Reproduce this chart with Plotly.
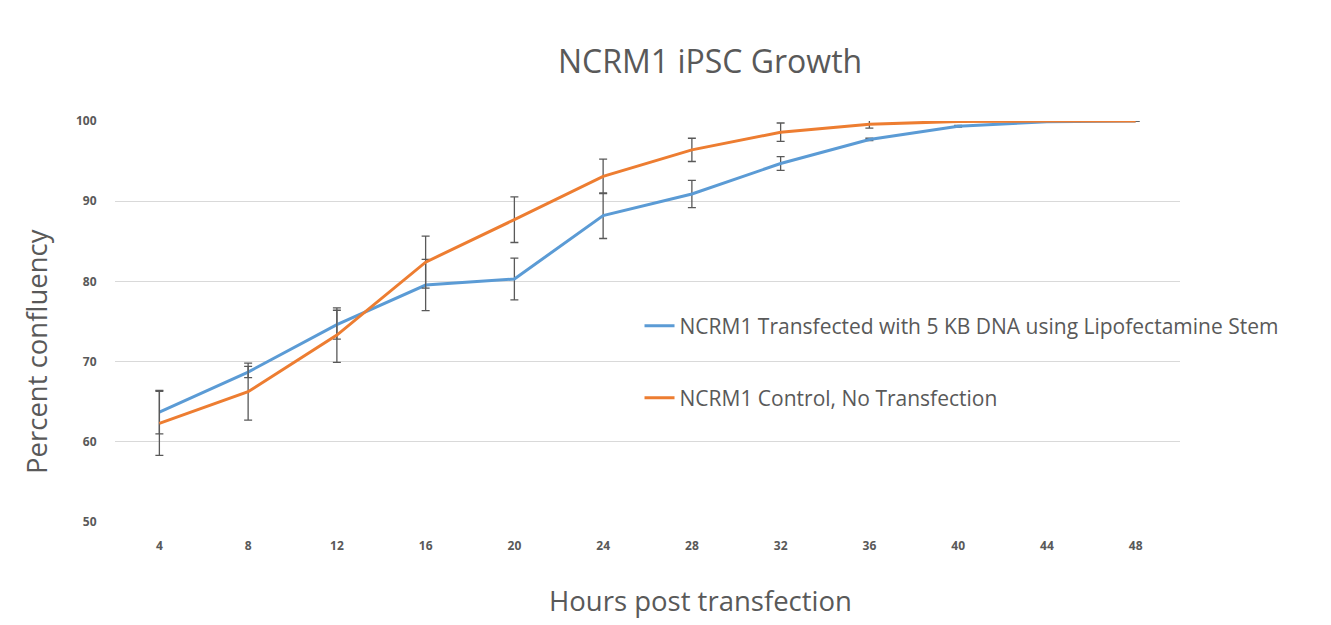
import plotly.graph_objects as go

hours = ["4", "8", "12", "16", "20", "24", "28", "32", "36", "40", "44", "48"]

transfected = [63.7, 68.7, 74.6, 79.55, 80.3, 88.2, 90.9, 94.7, 97.7, 99.35, 99.9, 100.0]
transfected_err = [2.7, 0.7, 1.8, 3.2, 2.6, 2.85, 1.7, 0.85, 0.15, 0.1, 0.05, 0.0]

control = [62.3, 66.25, 73.3, 82.4, 87.7, 93.1, 96.4, 98.6, 99.6, 99.95, 100.0, 100.0]
control_err = [4.0, 3.55, 3.4, 3.25, 2.85, 2.15, 1.45, 1.15, 0.5, 0.1, 0.05, 0.0]

name_t = "NCRM1 Transfected with 5 KB DNA using Lipofectamine Stem"
name_c = "NCRM1 Control, No Transfection"
x_title = "Hours post transfection"
y_title = "Percent confluency"

gray = "#595959"
font_family = "Open Sans, Liberation Sans, sans-serif"

fig = go.Figure()
fig.add_trace(go.Scatter(
    x=hours, y=transfected, mode="lines", name=name_t,
    line=dict(color="#5B9BD5", width=3),
    error_y=dict(type="data", array=transfected_err, visible=True,
                 color=gray, thickness=1.3, width=4),
    legend="legend", showlegend=True,
))
fig.add_trace(go.Scatter(
    x=hours, y=control, mode="lines", name=name_c,
    line=dict(color="#ED7D31", width=3),
    error_y=dict(type="data", array=control_err, visible=True,
                 color=gray, thickness=1.3, width=4),
    legend="legend2", showlegend=True,
))

legend_common = dict(
    font=dict(family=font_family, size=21, color=gray),
    bgcolor="rgba(0,0,0,0)",
    xanchor="left", yanchor="middle",
)

fig.update_layout(
    width=1331, height=625,
    showlegend=True,
    paper_bgcolor="white", plot_bgcolor="white",
    margin=dict(l=115, r=151, t=121, b=103),
    title=dict(text="NCRM1 iPSC Growth", x=0.5335, xanchor="center",
               y=1 - 62 / 625, yanchor="middle",
               font=dict(family=font_family, size=32, color=gray)),
    xaxis=dict(
        type="category", range=[-0.5, 11.5],
        showgrid=False, zeroline=False, showline=False,
        ticks="outside", ticklen=13, tickcolor="rgba(0,0,0,0)",
        tickfont=dict(family=font_family, size=12, color=gray, weight="bold"),
        automargin=False,
    ),
    yaxis=dict(
        range=[50, 100], dtick=10, tick0=50,
        showgrid=True, gridcolor="#D9D9D9", gridwidth=1,
        zeroline=False, showline=False, ticks="outside", ticklen=15,
        tickcolor="rgba(0,0,0,0)",
        tickfont=dict(family=font_family, size=12, color=gray, weight="bold"),
        automargin=False,
    ),
    legend=dict(x=0.4925, y=(522 - 326) / 401, **legend_common),
    legend2=dict(x=0.4925, y=(522 - 398) / 401, **legend_common),
    annotations=[
        dict(text=x_title, xref="paper", yref="paper",
             x=(700 - 115) / 1065, y=-(600 - 522) / 401,
             xanchor="center", yanchor="middle", showarrow=False,
             font=dict(family=font_family, size=27.5, color=gray)),
        dict(text=y_title, xref="paper", yref="paper", textangle=-90,
             x=-(115 - 36) / 1065, y=(522 - 352) / 401,
             xanchor="center", yanchor="middle", showarrow=False,
             font=dict(family=font_family, size=27.5, color=gray)),
    ],
)

fig.write_html("out.html")
